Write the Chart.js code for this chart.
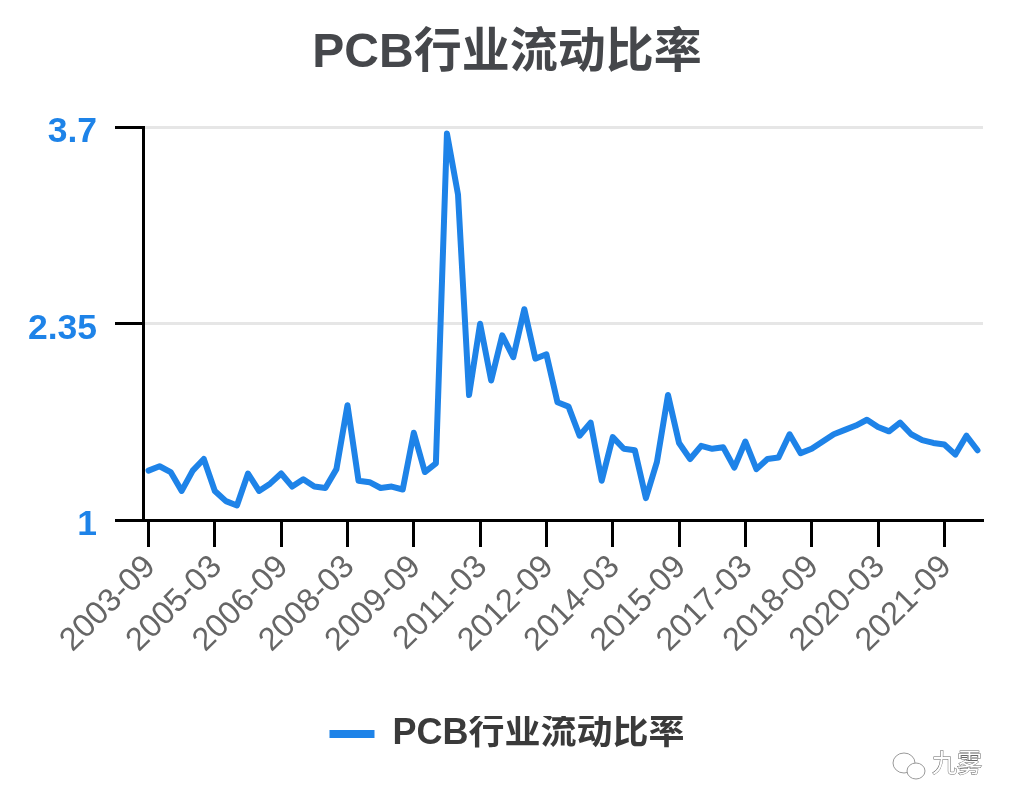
<!DOCTYPE html>
<html>
<head>
<meta charset="utf-8">
<script src="https://cdn.jsdelivr.net/npm/chart.js@4"></script>
<style>
  html, body { margin: 0; padding: 0; background: #fff; }
  #wrap { width: 1014px; height: 810px; }
</style>
</head>
<body>
<div id="wrap"><canvas id="ratioChart" width="1014" height="810"></canvas></div>
<script>
const FONT = '"Liberation Sans", "Noto Sans CJK SC", sans-serif';
const seriesName = 'PCB行业流动比率';
const yTicks = [1, 2.35, 3.7];

const quarters = [
  '2003-09','2003-12',
  '2004-03','2004-06','2004-09','2004-12',
  '2005-03','2005-06','2005-09','2005-12',
  '2006-03','2006-06','2006-09','2006-12',
  '2007-03','2007-06','2007-09','2007-12',
  '2008-03','2008-06','2008-09','2008-12',
  '2009-03','2009-06','2009-09','2009-12',
  '2010-03','2010-06','2010-09','2010-12',
  '2011-03','2011-06','2011-09','2011-12',
  '2012-03','2012-06','2012-09','2012-12',
  '2013-03','2013-06','2013-09','2013-12',
  '2014-03','2014-06','2014-09','2014-12',
  '2015-03','2015-06','2015-09','2015-12',
  '2016-03','2016-06','2016-09','2016-12',
  '2017-03','2017-06','2017-09','2017-12',
  '2018-03','2018-06','2018-09','2018-12',
  '2019-03','2019-06','2019-09','2019-12',
  '2020-03','2020-06','2020-09','2020-12',
  '2021-03','2021-06','2021-09','2021-12',
  '2022-03','2022-06'
];

const currentRatio = [
  1.34, 1.37,
  1.33, 1.20, 1.34, 1.42,
  1.20, 1.13, 1.10, 1.32,
  1.20, 1.25, 1.32, 1.23,
  1.28, 1.23, 1.22, 1.35,
  1.79, 1.27, 1.26, 1.22,
  1.23, 1.21, 1.60, 1.33,
  1.39, 3.66, 3.24, 1.86,
  2.35, 1.96, 2.27, 2.12,
  2.45, 2.11, 2.14, 1.81,
  1.78, 1.58, 1.67, 1.27,
  1.57, 1.49, 1.48, 1.15,
  1.40, 1.86, 1.53, 1.42,
  1.51, 1.49, 1.50, 1.36,
  1.54, 1.35, 1.42, 1.43,
  1.59, 1.46, 1.49, 1.54,
  1.59, 1.62, 1.65, 1.69,
  1.64, 1.61, 1.67, 1.59,
  1.55, 1.53, 1.52, 1.45,
  1.58, 1.48
];

// small mark bottom right of the picture
const watermark = {
  id: 'watermark',
  afterDraw(chart) {
    const c = chart.ctx;
    c.save();
    c.strokeStyle = '#999';
    c.fillStyle = '#fff';
    c.lineWidth = 1;
    c.beginPath(); c.ellipse(904, 763, 11, 10, 0, 0, Math.PI * 2); c.fill(); c.stroke();
    c.beginPath(); c.ellipse(916, 771, 9, 8, 0, 0, Math.PI * 2); c.fill(); c.stroke();
    c.font = '25px ' + FONT;
    c.textAlign = 'left';
    c.textBaseline = 'middle';
    c.fillStyle = '#fff';
    c.strokeStyle = '#666';
    c.strokeText('九雾', 932, 765);
    c.fillText('九雾', 932, 765);
    c.restore();
  }
};

new Chart(document.getElementById('ratioChart'), {
  type: 'line',
  plugins: [watermark],
  data: {
    labels: quarters,
    datasets: [{
      label: seriesName,
      data: currentRatio,
      borderColor: '#1E83E8',
      backgroundColor: '#1E83E8',
      borderWidth: 6,
      borderJoinStyle: 'round',
      borderCapStyle: 'round',
      pointRadius: 0,
      tension: 0
    }]
  },
  options: {
    responsive: false,
    animation: false,
    layout: { padding: { top: 0, right: 0, bottom: 48, left: 0 } },
    plugins: {
      title: {
        display: true,
        text: seriesName,
        color: '#45474B',
        font: { family: FONT, size: 48, weight: 'bold' },
        padding: { top: 25, bottom: 45 }
      },
      legend: {
        position: 'bottom',
        labels: {
          font: { family: FONT, size: 36, weight: 'bold' },
          boxWidth: 45,
          boxHeight: 8,
          padding: 0,
          generateLabels: () => [{
            text: seriesName,
            fontColor: '#3A3A3A',
            fillStyle: '#1E83E8',
            strokeStyle: '#1E83E8',
            lineWidth: 0,
            datasetIndex: 0
          }]
        }
      },
      tooltip: { enabled: false }
    },
    scales: {
      x: {
        type: 'category',
        offset: true,
        afterBuildTicks: s => { s.ticks = s.ticks.filter(t => t.value % 6 === 0); },
        afterFit: s => { s.height = 196; },
        grid: {
          offset: false,
          drawOnChartArea: false,
          tickColor: '#000',
          tickWidth: 3,
          tickLength: 27
        },
        border: { color: '#000', width: 3 },
        ticks: {
          autoSkip: false,
          minRotation: 45,
          maxRotation: 45,
          padding: 1,
          labelOffset: 2,
          color: '#666',
          font: { family: FONT, size: 32.5 }
        }
      },
      y: {
        min: 1,
        max: 3.7,
        afterBuildTicks: s => { s.ticks = yTicks.map(v => ({ value: v })); },
        afterFit: s => { s.width = 143; },
        grid: {
          color: '#E6E6E6',
          lineWidth: 3,
          tickColor: '#000',
          tickWidth: 3,
          tickLength: 28
        },
        border: { color: '#000', width: 3 },
        ticks: {
          padding: 18,
          labelOffset: 5,
          color: '#1E83E8',
          font: { family: FONT, size: 35.5, weight: 'bold' },
          callback: v => String(v)
        }
      },
      // empty axis, only keeps the plot clear of the right edge
      rightGap: {
        axis: 'y',
        position: 'right',
        afterFit: s => { s.width = 31; },
        grid: { display: false },
        border: { display: false },
        ticks: { display: false }
      }
    }
  }
});
</script>
</body>
</html>
